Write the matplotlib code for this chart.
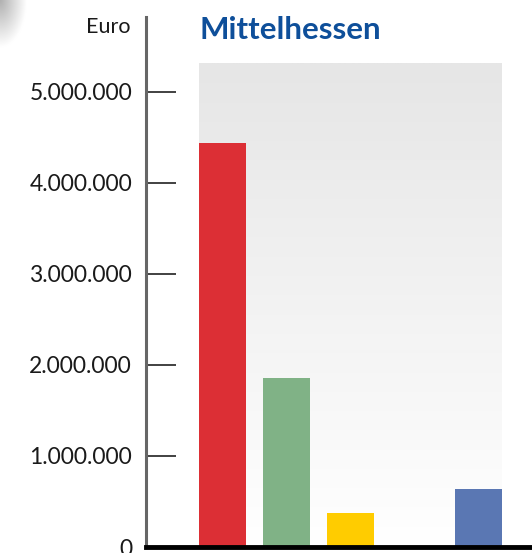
import numpy as np
import matplotlib.pyplot as plt
from matplotlib.colors import LinearSegmentedColormap

plt.rcParams['font.family'] = ['Lato', 'DejaVu Sans']

# Werte (Euro), Position 4 ist leer
kategorien = ["Kat. 1", "Kat. 2", "Kat. 3", "Kat. 4", "Kat. 5"]
werte = [4435000, 1855000, 377000, 0, 637000]
farben = ["#dc2f35", "#80b286", "#ffcc00", "#ffffff", "#5a77b3"]
yticks = [0, 1000000, 2000000, 3000000, 4000000, 5000000]
ytick_labels = ["0", "1.000.000", "2.000.000", "3.000.000", "4.000.000", "5.000.000"]

W, H = 532, 553
fig = plt.figure(figsize=(W / 100, H / 100), dpi=100)

# Schatten oben links
schatten = fig.add_axes([0, 1 - 50 / H, 30 / W, 50 / H])
gx, gy = np.meshgrid(np.linspace(0, 1, 60), np.linspace(0, 1, 100))
d = np.clip(1 - np.sqrt((gx / 0.9) ** 2 + ((1 - gy) / 0.95) ** 2), 0, 1)
schatten.imshow(d, cmap=LinearSegmentedColormap.from_list("s", ["#ffffff", "#b0b0b0"]),
                origin="lower", aspect="auto", extent=[0, 1, 0, 1])
schatten.axis("off")

ax = fig.add_axes([146 / W, 6 / H, 1 - 146 / W, (547 - 17) / H])

breite = 0.734
x = np.arange(len(werte))

# Hintergrund mit Verlauf
grau = LinearSegmentedColormap.from_list("grau", ["#ffffff", "#e6e6e6"])
verlauf = np.linspace(0, 1, 256).reshape(-1, 1)
ax.imshow(verlauf, cmap=grau, origin="lower", aspect="auto",
          extent=[-breite / 2, len(werte) - 1 + breite / 2, 0, 5308000], zorder=0)

balken = [v if v > 0 else np.nan for v in werte]
ax.bar(x, balken, width=breite, color=farben, zorder=2)

ax.set_xlim(-1.195, 4.836)
ax.set_ylim(0, 5824000)

ax.set_yticks(yticks)
ax.set_yticklabels(ytick_labels, fontsize=16.5, color="#1a1a1a")
ax.tick_params(axis="y", direction="in", length=21.5, width=1.3, color="#333333", pad=10)
ax.set_xticks([])

for s in ["top", "right", "bottom"]:
    ax.spines[s].set_visible(False)
ax.spines["left"].set_color("#666666")
ax.spines["left"].set_linewidth(2.2)

ax.axhline(0, color="black", linewidth=3.5, zorder=3, clip_on=False)

fig.text(130 / W, 1 - 27 / H, "Euro", ha="right", va="center", fontsize=15.5, color="#1a1a1a")
fig.text(200 / W, 1 - 30 / H, "Mittelhessen", ha="left", va="center", fontsize=22.5,
         fontweight="bold", color="#0e4f9a")

plt.savefig("out.png", dpi=100)
